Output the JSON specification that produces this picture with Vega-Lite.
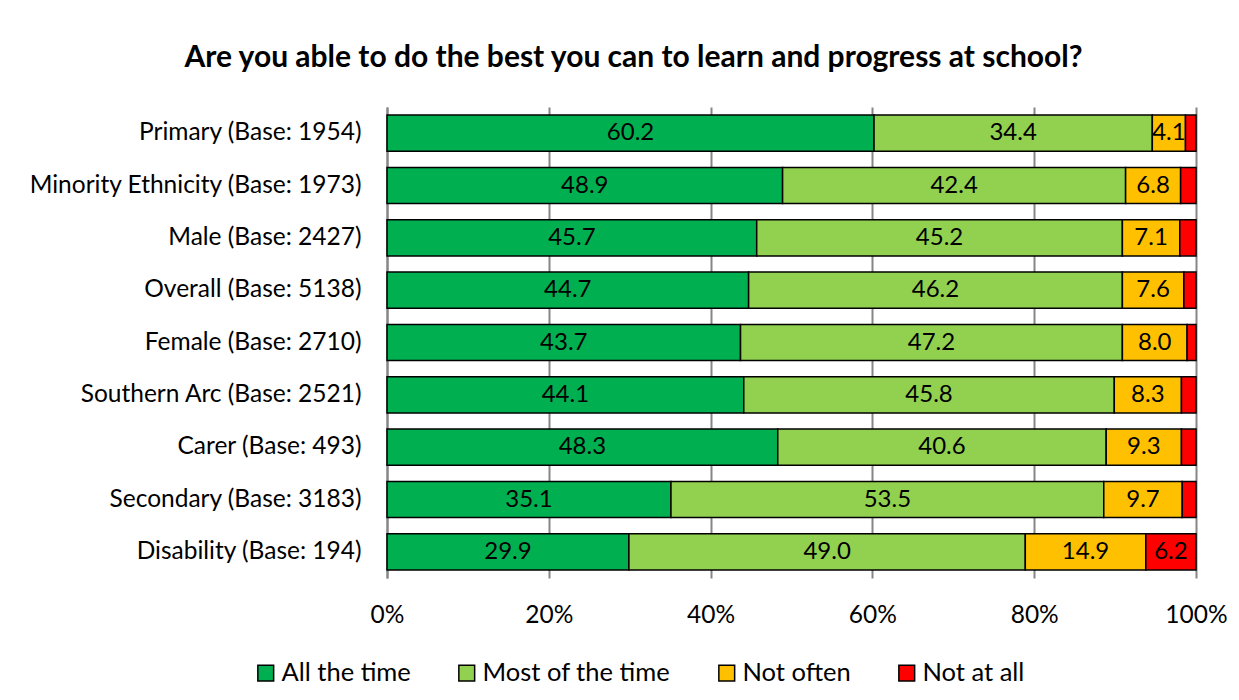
{
  "$schema": "https://vega.github.io/schema/vega-lite/v6.json",
  "autosize": "none",
  "width": 809,
  "height": 471,
  "padding": {"left": 387, "top": 107, "right": 43, "bottom": 122},
  "background": "white",
  "config": {
    "font": "Lato",
    "view": {"stroke": null},
    "axis": {"labelFont": "Lato", "labelColor": "black"}
  },
  "title": {
    "text": "Are you able to do the best you can to learn and progress at school?",
    "font": "Lato",
    "fontSize": 30,
    "fontWeight": "bold",
    "color": "black",
    "anchor": "middle",
    "dx": -158,
    "offset": 34
  },
  "data": {
    "values": [
      {"group": "Primary (Base: 1954)", "response": "All the time", "value": 60.2},
      {"group": "Primary (Base: 1954)", "response": "Most of the time", "value": 34.4},
      {"group": "Primary (Base: 1954)", "response": "Not often", "value": 4.1},
      {"group": "Primary (Base: 1954)", "response": "Not at all", "value": 1.3},
      {"group": "Minority Ethnicity (Base: 1973)", "response": "All the time", "value": 48.9},
      {"group": "Minority Ethnicity (Base: 1973)", "response": "Most of the time", "value": 42.4},
      {"group": "Minority Ethnicity (Base: 1973)", "response": "Not often", "value": 6.8},
      {"group": "Minority Ethnicity (Base: 1973)", "response": "Not at all", "value": 1.9},
      {"group": "Male (Base: 2427)", "response": "All the time", "value": 45.7},
      {"group": "Male (Base: 2427)", "response": "Most of the time", "value": 45.2},
      {"group": "Male (Base: 2427)", "response": "Not often", "value": 7.1},
      {"group": "Male (Base: 2427)", "response": "Not at all", "value": 2.0},
      {"group": "Overall (Base: 5138)", "response": "All the time", "value": 44.7},
      {"group": "Overall (Base: 5138)", "response": "Most of the time", "value": 46.2},
      {"group": "Overall (Base: 5138)", "response": "Not often", "value": 7.6},
      {"group": "Overall (Base: 5138)", "response": "Not at all", "value": 1.5},
      {"group": "Female (Base: 2710)", "response": "All the time", "value": 43.7},
      {"group": "Female (Base: 2710)", "response": "Most of the time", "value": 47.2},
      {"group": "Female (Base: 2710)", "response": "Not often", "value": 8.0},
      {"group": "Female (Base: 2710)", "response": "Not at all", "value": 1.1},
      {"group": "Southern Arc (Base: 2521)", "response": "All the time", "value": 44.1},
      {"group": "Southern Arc (Base: 2521)", "response": "Most of the time", "value": 45.8},
      {"group": "Southern Arc (Base: 2521)", "response": "Not often", "value": 8.3},
      {"group": "Southern Arc (Base: 2521)", "response": "Not at all", "value": 1.8},
      {"group": "Carer (Base: 493)", "response": "All the time", "value": 48.3},
      {"group": "Carer (Base: 493)", "response": "Most of the time", "value": 40.6},
      {"group": "Carer (Base: 493)", "response": "Not often", "value": 9.3},
      {"group": "Carer (Base: 493)", "response": "Not at all", "value": 1.8},
      {"group": "Secondary (Base: 3183)", "response": "All the time", "value": 35.1},
      {"group": "Secondary (Base: 3183)", "response": "Most of the time", "value": 53.5},
      {"group": "Secondary (Base: 3183)", "response": "Not often", "value": 9.7},
      {"group": "Secondary (Base: 3183)", "response": "Not at all", "value": 1.7},
      {"group": "Disability (Base: 194)", "response": "All the time", "value": 29.9},
      {"group": "Disability (Base: 194)", "response": "Most of the time", "value": 49.0},
      {"group": "Disability (Base: 194)", "response": "Not often", "value": 14.9},
      {"group": "Disability (Base: 194)", "response": "Not at all", "value": 6.2}
    ]
  },
  "transform": [
    {"calculate": "indexof(['All the time','Most of the time','Not often','Not at all'], datum.response)", "as": "ord"},
    {"stack": "value", "groupby": ["group"], "sort": [{"field": "ord", "order": "ascending"}], "as": ["x0", "x1"], "offset": "normalize"},
    {"calculate": "(datum.x0 + datum.x1) / 2", "as": "xm"}
  ],
  "encoding": {
    "y": {
      "field": "group",
      "type": "nominal",
      "sort": null,
      "title": null,
      "scale": {"paddingInner": 0.31, "paddingOuter": 0.155},
      "axis": {
        "ticks": false,
        "domainColor": "#868686",
        "domainWidth": 2,
        "labelFontSize": 24.5,
        "labelPadding": 26,
        "labelLimit": 500
      }
    }
  },
  "layer": [
    {
      "mark": {"type": "bar", "stroke": "black", "strokeWidth": 1.5},
      "encoding": {
        "x": {
          "field": "x0",
          "type": "quantitative",
          "scale": {"domain": [0, 1], "nice": false},
          "title": null,
          "axis": {
            "values": [0, 0.2, 0.4, 0.6, 0.8, 1],
            "format": ".0%",
            "grid": true,
            "gridColor": "#868686",
            "gridWidth": 2,
            "domain": false,
            "ticks": false,
            "labelFontSize": 24.5,
            "labelPadding": 25,
            "labelFlush": false
          }
        },
        "x2": {"field": "x1"},
        "color": {
          "field": "response",
          "type": "nominal",
          "scale": {
            "domain": ["All the time", "Most of the time", "Not often", "Not at all"],
            "range": ["#00B050", "#92D050", "#FFC000", "#FF0000"]
          },
          "legend": {
            "title": null,
            "orient": "none",
            "direction": "horizontal",
            "legendX": -134,
            "legendY": 553,
            "symbolType": "square",
            "symbolSize": 250,
            "symbolStrokeColor": "black",
            "symbolStrokeWidth": 1.5,
            "labelFontSize": 25.5,
            "labelColor": "black",
            "labelOffset": 3,
            "columnPadding": 43,
            "labelLimit": 500
          }
        }
      }
    },
    {
      "transform": [{"filter": "datum.value >= 3"}],
      "mark": {"type": "text", "fontSize": 24, "color": "black", "align": "center", "baseline": "middle"},
      "encoding": {
        "x": {"field": "xm", "type": "quantitative"},
        "text": {"field": "value", "type": "quantitative", "format": ".1f"}
      }
    }
  ]
}
